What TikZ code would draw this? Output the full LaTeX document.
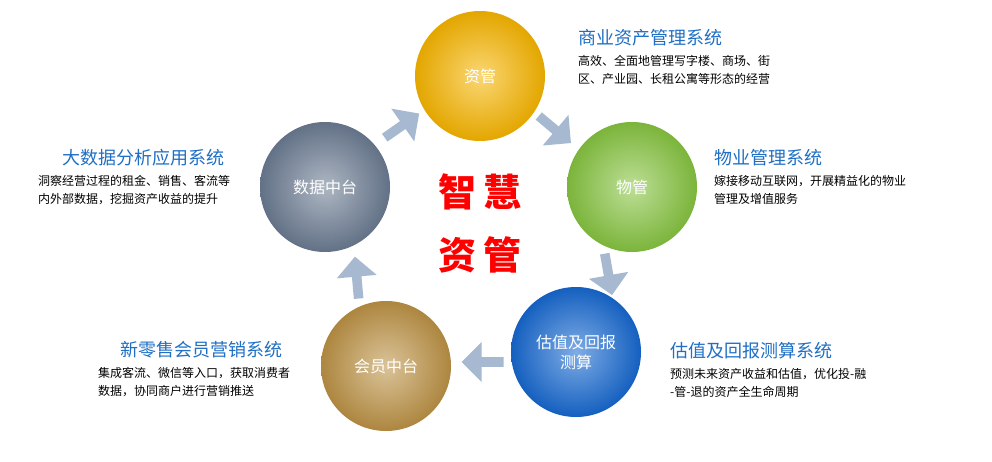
\documentclass[tikz,border=0pt]{standalone}
\usepackage{fontspec}
\setmainfont{Noto Sans CJK SC}
\usetikzlibrary{shapes.arrows,positioning}
\definecolor{titleblue}{HTML}{1F6FC5}
\definecolor{zgyellow}{HTML}{F7B500}
\definecolor{wggreen}{HTML}{86C440}
\definecolor{gzblue}{HTML}{1668D0}
\definecolor{hytan}{HTML}{BC9245}
\definecolor{sjslate}{HTML}{6B7B92}
\definecolor{arrowgray}{HTML}{A7B9D0}
\tikzset{
  ballnode/.style={circle,minimum size=130pt,text=white,font=\fontsize{16}{20}\selectfont,align=center},
  ballfill/.style={inner color=#1!55!white,outer color=#1!92!black},
  blockarrow/.style={single arrow,draw=none,fill=arrowgray,minimum height=42pt,minimum width=40pt,single arrow head extend=7pt,inner sep=2pt},
  systitle/.style={anchor=west,text=titleblue,font=\fontsize{18}{21}\selectfont,inner sep=0pt},
  sysbody/.style={anchor=north west,font=\fontsize{12}{18}\selectfont,align=left,inner sep=0pt}
}
\begin{document}
\begin{tikzpicture}[x=1pt,y=-1pt]
\useasboundingbox[fill=white] (0,0) rectangle (992,462);
% circles
\node[ballnode,ballfill=zgyellow] (zg) at (480,76) {资管};
\node[ballnode,ballfill=wggreen] (wg) at (632,187) {物管};
\node[ballnode,ballfill=gzblue] (gz) at (576,352) {估值及回报\\测算};
\node[ballnode,ballfill=hytan] (hy) at (386,366) {会员中台};
\node[ballnode,ballfill=sjslate] (sj) at (325,187) {数据中台};
% arrows
\node[blockarrow,rotate=-40] (a1) at (553,128) {};
\node[blockarrow,rotate=-80] (a2) at (608,272) {};
\node[blockarrow,rotate=180] (a3) at (485,362) {};
\node[blockarrow,rotate=95] (a4) at (357,280) {};
\node[blockarrow,rotate=35] (a5) at (400,127) {};
% centre
\node[text=red,font=\fontsize{38}{44}\selectfont\bfseries] (zh1) at (480,192) {智\,慧};
\node[text=red,font=\fontsize{38}{44}\selectfont\bfseries] (zh2) at (480,255) {资\,管};
% texts
\node[systitle] (t1) at (578,38) {商业资产管理系统};
\node[sysbody] (b1) at (578,55) {高效、全面地管理写字楼、商场、街\\区、产业园、长租公寓等形态的经营};
\node[systitle] (t2) at (714,158) {物业管理系统};
\node[sysbody] (b2) at (714,175) {嫁接移动互联网，开展精益化的物业\\管理及增值服务};
\node[systitle] (t3) at (670,351) {估值及回报测算系统};
\node[sysbody] (b3) at (670,368) {预测未来资产收益和估值，优化投-融\\-管-退的资产全生命周期};
\node[systitle] (t4) at (62,158) {大数据分析应用系统};
\node[sysbody] (b4) at (38,175) {洞察经营过程的租金、销售、客流等\\内外部数据，挖掘资产收益的提升};
\node[systitle] (t5) at (120,350) {新零售会员营销系统};
\node[sysbody] (b5) at (98,367) {集成客流、微信等入口，获取消费者\\数据，协同商户进行营销推送};
\end{tikzpicture}
\end{document}
